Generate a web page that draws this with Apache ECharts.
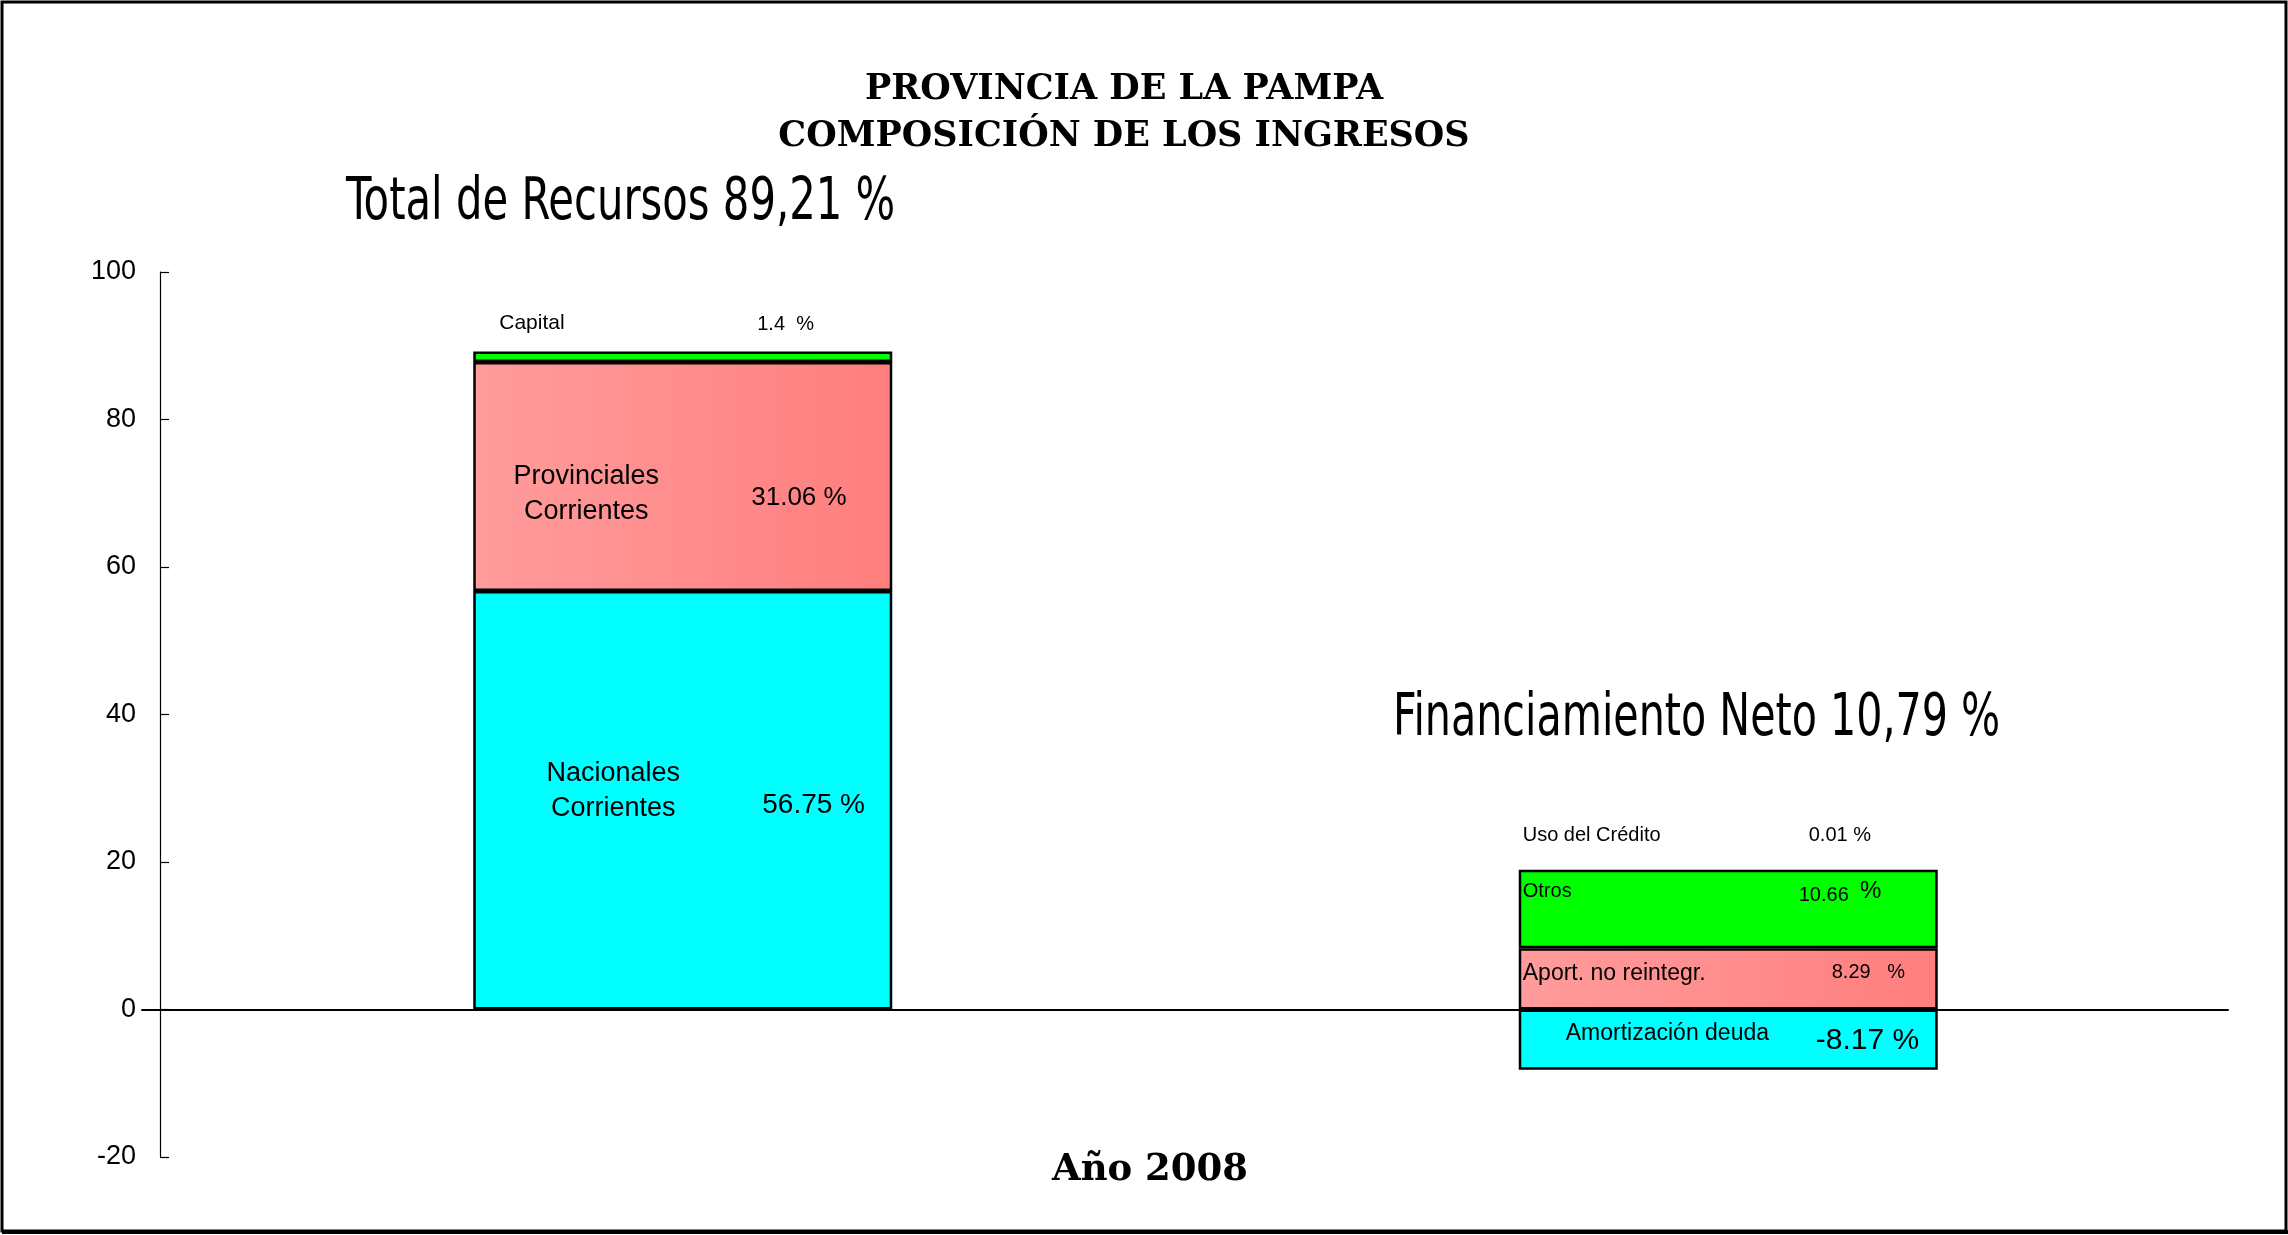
<!DOCTYPE html>
<html>
<head>
<meta charset="utf-8">
<title>Provincia de La Pampa - Composición de los ingresos</title>
<script src="https://cdn.jsdelivr.net/npm/echarts@6/dist/echarts.min.js"></script>
<style>
    html, body { margin: 0; padding: 0; background: #fff; }
    #grafico { width: 2288px; height: 1235px; }
</style>
</head>
<body>
<div id="grafico"></div>
<script>
    // barras: 0 = Total de Recursos, 1 = Financiamiento Neto
    var barras = ['Total de Recursos', 'Financiamiento Neto'];
    var totales = ['89,21', '10,79'];

    // capas apiladas, de abajo hacia arriba
    var capaBase = [56.75, -8.17];      // Nacionales Corrientes | Amortización deuda
    var capaMedia = [31.06, 8.29];      // Provinciales Corrientes | Aport. no reintegr.
    var capaSuperior = [1.4, 10.66];    // Capital | Otros
    var capaTope = [0, 0.01];           // (nada) | Uso del Crédito

    var nombresBase = ['Nacionales\nCorrientes', 'Amortización deuda'];
    var nombresMedia = ['Provinciales\nCorrientes', 'Aport. no reintegr.'];
    var nombresSuperior = ['Capital', 'Otros'];
    var nombresTope = ['', 'Uso del Crédito'];

    var ejeMin = -20, ejeMax = 100, ejeIntervalo = 20;
    var titulo = ['PROVINCIA DE LA PAMPA', 'COMPOSICIÓN DE LOS INGRESOS'];
    var anio = 'Año 2008';

    var CYAN = '#00FFFF';
    var VERDE = '#00FF00';
    var ROSA = {
        type: 'linear', x: 0, y: 0, x2: 1, y2: 0,
        colorStops: [{offset: 0, color: '#FF9C9C'}, {offset: 1, color: '#FF7E7E'}]
    };
    var ARIAL = 'Liberation Sans, Arial, sans-serif';
    var ANGOSTA = "'Liberation Sans Narrow', 'DejaVu Sans Condensed', sans-serif";

    function rotulo(pos, align, size, texto, extra) {
        var l = {
            show: true,
            position: pos,
            align: align,
            verticalAlign: 'middle',
            fontFamily: ARIAL,
            fontSize: size,
            color: '#000',
            formatter: texto
        };
        if (extra) {
            for (var k in extra) { l[k] = extra[k]; }
        }
        return l;
    }

    function pct(v, sep) {
        return v + (sep || ' ') + '%';
    }

    // rotulos por capa y barra (nombre / valor), posicion relativa a la esquina del segmento
    var rotNombre = [
        [rotulo([140, 200], 'center', 27, nombresBase[0], {lineHeight: 35}),
         rotulo([47, 24], 'left', 23, nombresBase[1])],
        [rotulo([113, 132], 'center', 27, nombresMedia[0], {lineHeight: 35}),
         rotulo([4, 25], 'left', 23, nombresMedia[1])],
        [rotulo([26, -28], 'left', 21, nombresSuperior[0]),
         rotulo([4, 22], 'left', 20, nombresSuperior[1])],
        [{show: false},
         rotulo([4, -34], 'left', 20, nombresTope[1])]
    ];
    var rotValor = [
        [rotulo([289, 214], 'left', 28, pct(capaBase[0])),
         rotulo([297, 31], 'left', 30, pct(capaBase[1]))],
        [rotulo([278, 136], 'left', 26, pct(capaMedia[0])),
         rotulo([313, 24], 'left', 20, pct(capaMedia[1], '   '))],
        [rotulo([284, -27], 'left', 20, pct(capaSuperior[0], '  ')),
         rotulo([280, 26], 'left', 20, '{v|' + capaSuperior[1] + '}  {p|%}', {
             rich: {
                 v: {fontFamily: ARIAL, fontSize: 20, color: '#000'},
                 p: {fontFamily: ARIAL, fontSize: 24, color: '#000', padding: [0, 0, 9, 0]}
             }
         })],
        [{show: false},
         rotulo([290, -34], 'left', 20, pct(capaTope[1]))]
    ];

    var capas = [capaBase, capaMedia, capaSuperior, capaTope];
    var colores = [CYAN, ROSA, VERDE, VERDE];

    var series = [];
    // barras de color con el nombre de cada componente
    capas.forEach(function (capa, c) {
        series.push({
            type: 'bar',
            stack: 'componentes',
            barWidth: 419,
            barGap: '-100%',
            itemStyle: {
                color: colores[c],
                borderColor: '#000',
                borderWidth: c === 3 ? 0 : 2.5
            },
            data: capa.map(function (v, i) {
                return {value: v, label: rotNombre[c][i]};
            })
        });
    });
    // capa transparente encima, solo para el porcentaje
    capas.forEach(function (capa, c) {
        series.push({
            type: 'bar',
            stack: 'valores',
            barWidth: 419,
            barGap: '-100%',
            itemStyle: {color: 'rgba(0,0,0,0)', borderWidth: 0},
            data: capa.map(function (v, i) {
                return {value: v, label: rotValor[c][i]};
            })
        });
    });

    var grafico = echarts.init(document.getElementById('grafico'));
    var option = {
        backgroundColor: '#fff',
        animation: false,
        title: [
            {
                text: titulo.join('\n'),
                left: 1124, top: 66, textAlign: 'center', padding: 0,
                textStyle: {fontFamily: 'DejaVu Serif', fontWeight: 'bold', fontSize: 35, lineHeight: 47, color: '#000'}
            },
            {
                text: anio,
                left: 1150, top: 1152, textAlign: 'center', padding: 0,
                textStyle: {fontFamily: 'DejaVu Serif', fontWeight: 'bold', fontSize: 37, lineHeight: 37, color: '#000'}
            }
        ],
        grid: [
            {left: 160, right: 37, top: 272, bottom: 78, outerBoundsMode: 'none'},
            // solo para la linea del cero, que sobresale a la izquierda del eje
            {left: 142, right: 60, top: 272, bottom: 78, outerBoundsMode: 'none'}
        ],
        xAxis: [
            {
                type: 'category',
                gridIndex: 0,
                data: barras,
                axisLine: {show: false},
                axisTick: {show: false},
                axisLabel: {show: false},
                splitLine: {show: false}
            },
            {
                type: 'value',
                gridIndex: 1,
                min: 0,
                max: 1,
                axisLine: {show: true, onZero: true, lineStyle: {color: '#000', width: 2}},
                axisTick: {show: false},
                axisLabel: {show: false},
                splitLine: {show: false}
            }
        ],
        yAxis: [
            {
                type: 'value',
                gridIndex: 0,
                min: ejeMin,
                max: ejeMax,
                interval: ejeIntervalo,
                axisLine: {show: true, onZero: false, lineStyle: {color: '#000', width: 1.2}},
                axisTick: {show: true, inside: true, length: 9, lineStyle: {color: '#000', width: 1.2}},
                axisLabel: {margin: 24, fontFamily: ARIAL, fontSize: 27, color: '#000'},
                splitLine: {show: false}
            },
            {
                type: 'value',
                gridIndex: 1,
                min: ejeMin,
                max: ejeMax,
                interval: ejeIntervalo,
                axisLine: {show: false, onZero: false},
                axisTick: {show: false},
                axisLabel: {show: false},
                splitLine: {show: false}
            }
        ],
        graphic: [
            {
                type: 'text', silent: true, left: 346, top: 175, scaleX: 0.8,
                style: {text: barras[0] + ' ' + totales[0] + ' %', font: '58px ' + ANGOSTA, fill: '#000'}
            },
            {
                type: 'text', silent: true, left: 1393, top: 691, scaleX: 0.79,
                style: {text: barras[1] + ' ' + totales[1] + ' %', font: '58px ' + ANGOSTA, fill: '#000'}
            },
            {
                type: 'rect', silent: true, z: 100,
                shape: {x: 2, y: 2, width: 2284, height: 1229},
                style: {fill: null, stroke: '#000', lineWidth: 3}
            },
            {
                type: 'line', silent: true, z: 100,
                shape: {x1: 2, y1: 1232, x2: 2288, y2: 1232},
                style: {stroke: '#000', lineWidth: 4}
            }
        ],
        series: series
    };
    grafico.setOption(option);
</script>
</body>
</html>
